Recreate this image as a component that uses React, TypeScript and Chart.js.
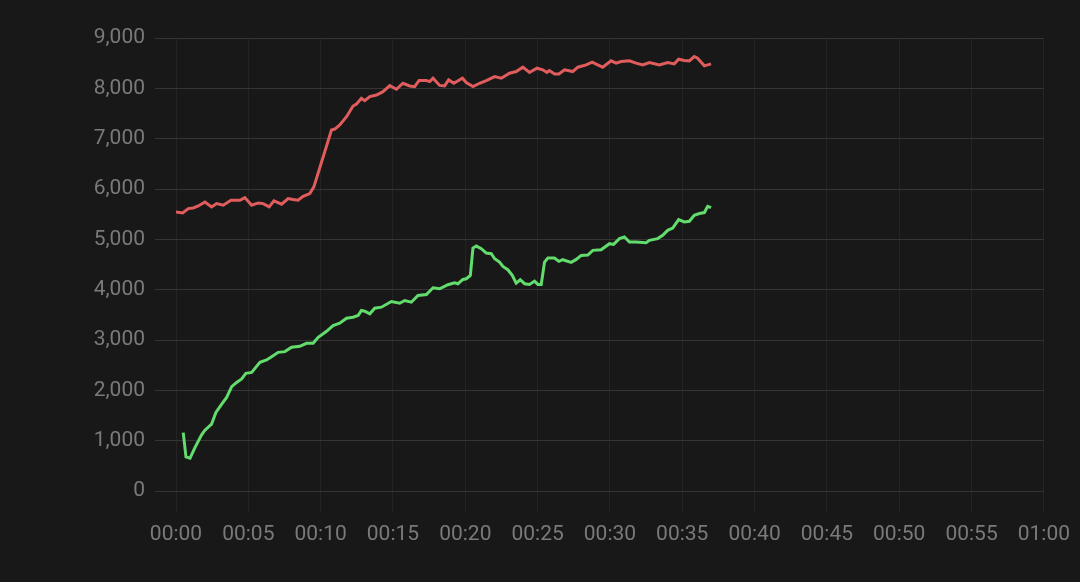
import React, { useEffect, useRef } from "react";
import { Chart, registerables } from "chart.js";

Chart.register(...registerables);

// time in minutes since start
const redTimes = [0.0, 0.46, 0.85, 1.19, 1.54, 2.0, 2.46, 2.81, 3.27, 3.8, 4.42, 4.76, 5.23, 5.68, 6.03, 6.44, 6.77, 7.3, 7.75, 8.1, 8.44, 8.79, 9.25, 9.53, 10.75, 10.98, 11.32, 11.79, 12.24, 12.48, 12.82, 13.05, 13.4, 13.86, 14.31, 14.78, 15.24, 15.69, 16.16, 16.5, 16.8, 17.31, 17.54, 17.77, 18.23, 18.57, 18.85, 19.21, 19.8, 20.07, 20.53, 20.99, 21.45, 22.03, 22.49, 23.06, 23.52, 23.98, 24.44, 24.95, 25.36, 25.64, 25.82, 26.17, 26.47, 26.86, 27.43, 27.78, 28.36, 28.77, 29.05, 29.5, 30.08, 30.43, 30.77, 31.35, 31.81, 32.27, 32.73, 33.42, 33.99, 34.45, 34.75, 35.14, 35.49, 35.83, 36.06, 36.53, 36.99];
const redValues = [5544, 5524, 5611, 5624, 5663, 5743, 5644, 5710, 5677, 5777, 5777, 5830, 5677, 5723, 5710, 5644, 5763, 5697, 5810, 5790, 5777, 5856, 5910, 6042, 7172, 7191, 7271, 7437, 7649, 7689, 7803, 7755, 7835, 7868, 7934, 8054, 7982, 8101, 8048, 8034, 8154, 8154, 8134, 8201, 8058, 8050, 8168, 8101, 8201, 8114, 8034, 8101, 8154, 8234, 8201, 8300, 8333, 8420, 8314, 8400, 8367, 8314, 8353, 8287, 8287, 8367, 8333, 8420, 8466, 8520, 8480, 8420, 8546, 8500, 8533, 8546, 8500, 8466, 8513, 8466, 8513, 8486, 8579, 8553, 8546, 8632, 8600, 8447, 8486];

const greenTimes = [0.5, 0.69, 0.97, 1.31, 1.77, 2.0, 2.46, 2.76, 3.16, 3.5, 3.85, 4.19, 4.54, 4.83, 5.23, 5.8, 6.26, 6.61, 7.06, 7.53, 7.99, 8.56, 9.02, 9.48, 9.83, 10.41, 10.86, 11.32, 11.79, 12.24, 12.59, 12.82, 13.05, 13.4, 13.74, 14.2, 14.89, 15.47, 15.81, 16.27, 16.73, 17.31, 17.77, 18.23, 18.8, 19.26, 19.49, 19.84, 20.07, 20.35, 20.53, 20.76, 21.11, 21.45, 21.8, 22.03, 22.37, 22.6, 22.94, 23.25, 23.52, 23.8, 24.1, 24.44, 24.79, 25.02, 25.25, 25.48, 25.71, 26.17, 26.47, 26.74, 27.32, 27.67, 28.01, 28.47, 28.82, 29.39, 29.97, 30.25, 30.66, 31.0, 31.35, 31.81, 32.5, 32.73, 33.3, 33.65, 33.99, 34.34, 34.75, 35.14, 35.49, 35.83, 36.18, 36.53, 36.76, 36.99];
const greenValues = [1161, 677, 651, 863, 1116, 1209, 1329, 1560, 1727, 1859, 2072, 2157, 2225, 2337, 2357, 2556, 2603, 2669, 2755, 2769, 2855, 2875, 2934, 2934, 3054, 3173, 3287, 3333, 3433, 3453, 3486, 3586, 3572, 3520, 3632, 3652, 3765, 3731, 3785, 3751, 3884, 3904, 4038, 4018, 4098, 4137, 4118, 4203, 4217, 4283, 4827, 4866, 4815, 4727, 4715, 4615, 4548, 4462, 4396, 4283, 4130, 4197, 4118, 4104, 4170, 4104, 4104, 4548, 4627, 4627, 4562, 4595, 4542, 4601, 4681, 4688, 4781, 4794, 4914, 4900, 5014, 5046, 4946, 4946, 4934, 4980, 5014, 5080, 5179, 5225, 5393, 5345, 5359, 5478, 5512, 5532, 5657, 5631];

const xTickMinutes = [0, 5, 10, 15, 20, 25, 30, 35, 40, 45, 50, 55, 60];
const yTickValues = [0, 1000, 2000, 3000, 4000, 5000, 6000, 7000, 8000, 9000];

const pad = (n: number) => String(n).padStart(2, "0");
const fmtTime = (m: number) => `${pad(Math.floor(m / 60))}:${pad(Math.round(m % 60))}`;

export default function App() {
  const ref = useRef<HTMLCanvasElement | null>(null);
  useEffect(() => {
    document.body.style.margin = "0";
    document.body.style.background = "#181818";
    const canvas = ref.current!;
    const font = { family: "Roboto", size: 21 };
    const chart = new Chart(canvas, {
      type: "line",
      data: {
        datasets: [
          {
            data: redTimes.map((t, i) => ({ x: t, y: redValues[i] })),
            borderColor: "#e15c5c",
            borderWidth: 3,
            pointRadius: 0,
            tension: 0,
            fill: false,
          },
          {
            data: greenTimes.map((t, i) => ({ x: t, y: greenValues[i] })),
            borderColor: "#62dc6c",
            borderWidth: 3,
            pointRadius: 0,
            tension: 0,
            fill: false,
          },
        ],
      },
      options: {
        animation: false,
        responsive: false,
        layout: { padding: { top: 38, right: 32, left: 0, bottom: 0 } },
        plugins: { legend: { display: false }, tooltip: { enabled: false } },
        scales: {
          x: {
            type: "linear",
            min: 0,
            max: 60,
            afterBuildTicks: (s: any) => {
              s.ticks = xTickMinutes.map((v) => ({ value: v }));
            },
            afterFit: (s: any) => {
              s.height = 91;
            },
            ticks: {
              color: "#7a7a7a",
              font,
              padding: 10,
              maxRotation: 0,
              autoSkip: false,
              callback: (v: any) => fmtTime(Number(v)),
            },
            grid: { color: "#242424", lineWidth: 1, tickLength: 21 },
            border: { display: false },
          },
          y: {
            type: "linear",
            min: 0,
            max: 9000,
            afterBuildTicks: (s: any) => {
              s.ticks = yTickValues.map((v) => ({ value: v }));
            },
            afterFit: (s: any) => {
              s.width = 176;
            },
            ticks: {
              color: "#7a7a7a",
              font,
              padding: 10,
              callback: (v: any) => Number(v).toLocaleString("en-US"),
            },
            grid: { color: "#353535", lineWidth: 1, tickLength: 21 },
            border: { display: false },
          },
        },
      },
    });
    return () => chart.destroy();
  }, []);
  return (
    <div style={{ width: 1080, height: 582, background: "#181818" }}>
      <canvas ref={ref} width={1080} height={582} style={{ display: "block" }} />
    </div>
  );
}
